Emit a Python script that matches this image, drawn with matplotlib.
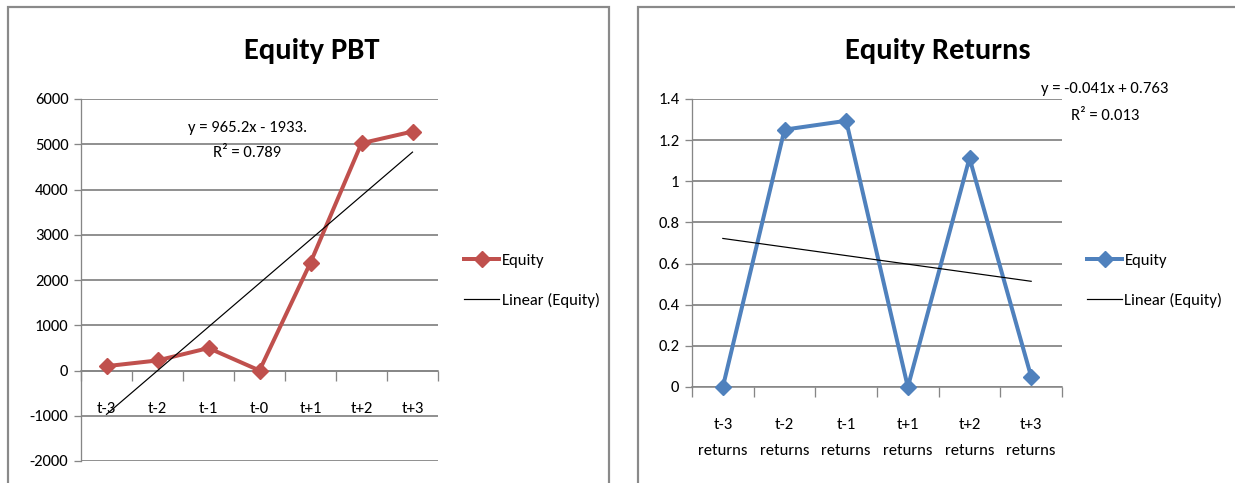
import numpy as np
import matplotlib
matplotlib.use("Agg")
import matplotlib.pyplot as plt
from matplotlib.patches import Rectangle
from matplotlib.ticker import FixedLocator
from matplotlib import font_manager

# ---------------- data ----------------
pbt_categories = ["t-3", "t-2", "t-1", "t-0", "t+1", "t+2", "t+3"]
pbt_values = [96, 222, 496, 0, 2385, 5022, 5281]
pbt_yticks = [-2000, -1000, 0, 1000, 2000, 3000, 4000, 5000, 6000]
pbt_eq = "y = 965.2x - 1933."
pbt_r2 = "R² = 0.789"

ret_categories = ["t-3\nreturns", "t-2\nreturns", "t-1\nreturns",
                  "t+1\nreturns", "t+2\nreturns", "t+3\nreturns"]
ret_values = [0.0, 1.251, 1.294, 0.0, 1.113, 0.050]
ret_yticks = [0, 0.2, 0.4, 0.6, 0.8, 1, 1.2, 1.4]
ret_ytick_labels = ["0", "0.2", "0.4", "0.6", "0.8", "1", "1.2", "1.4"]
ret_eq = "y = -0.041x + 0.763"
ret_r2 = "R² = 0.013"

series_name = "Equity"
trend_name = "Linear (Equity)"

# ---------------- style ----------------
names = {f.name for f in font_manager.fontManager.ttflist}
base = "Carlito" if "Carlito" in names else "Liberation Sans"
plt.rcParams["font.family"] = [base, "DejaVu Sans"]

W, H = 1235, 483
fig = plt.figure(figsize=(W / 100, H / 100), dpi=100)
GRID = "#868686"
RED = "#C0504D"
BLUE = "#4F81BD"
PX = 72 / 100  # points per pixel


def fx(x):
    return x / W


def fy(y):
    return 1 - y / H


# frames
fig.patches.append(Rectangle((fx(8), fy(490)), fx(609 - 8), (490 - 7) / H,
                             transform=fig.transFigure, fill=False,
                             edgecolor="#8a8a8a", lw=2.2 * PX))
fig.patches.append(Rectangle((fx(638), fy(490)), fx(700), (490 - 7) / H,
                             transform=fig.transFigure, fill=False,
                             edgecolor="#8a8a8a", lw=2.2 * PX))


def style_axes(ax, yticks, ylabels, n, zero_spine):
    for s in ["top", "right"]:
        ax.spines[s].set_visible(False)
    ax.spines["left"].set_color(GRID)
    ax.spines["left"].set_linewidth(1.3 * PX)
    ax.spines["bottom"].set_color(GRID)
    ax.spines["bottom"].set_linewidth(1.6 * PX)
    if zero_spine:
        ax.spines["bottom"].set_position(("data", 0))
    ax.set_yticks(yticks)
    ax.set_yticklabels(ylabels)
    ax.yaxis.grid(True, color=GRID, lw=1.8 * PX)
    ax.set_axisbelow(True)
    ax.tick_params(axis="y", direction="out", length=5 * PX * 1.4,
                   color=GRID, width=1.3 * PX, labelsize=12, pad=4)
    ax.set_xlim(0.5, n + 0.5)
    ax.xaxis.set_minor_locator(FixedLocator(np.arange(0.5, n + 1, 1.0)))
    ax.tick_params(axis="x", which="minor", direction="out",
                   length=7 * PX * 1.4, color=GRID, width=1.3 * PX)
    ax.tick_params(axis="x", which="major", length=0, labelsize=12)


# ---------------- left chart ----------------
axL = fig.add_axes([fx(81), fy(461), fx(438 - 81), (461 - 99) / H])
xL = np.arange(1, len(pbt_values) + 1)
lineL, = axL.plot(xL, pbt_values, color=RED, lw=4 * PX, marker="D",
                  markersize=11 * PX, zorder=3, label=series_name)
cL = np.polyfit(xL, pbt_values, 1)
trendL, = axL.plot(xL, np.polyval(cL, xL), color="black", lw=1.2 * PX,
                   zorder=4, label=trend_name)
axL.set_ylim(-2000, 6000)
style_axes(axL, pbt_yticks, [str(v) for v in pbt_yticks], len(pbt_values), True)
axL.set_xticks(xL)
axL.set_xticklabels(pbt_categories)
axL.tick_params(axis="x", which="major", pad=23)
for lab in axL.get_xticklabels():
    lab.set_zorder(5)

fig.text(fx(312), fy(51), "Equity PBT", ha="center", va="center",
         fontsize=22, fontweight="bold")
fig.text(fx(248), fy(128), pbt_eq, ha="center", va="center", fontsize=12)
fig.text(fx(247), fy(153), pbt_r2, ha="center", va="center", fontsize=12)

axL.legend(handles=[lineL, trendL], loc="upper left",
           bbox_to_anchor=(fx(464), fy(253)), bbox_transform=fig.transFigure,
           frameon=False, fontsize=12, borderpad=0, borderaxespad=0,
           handlelength=2.1, handletextpad=0.15, labelspacing=1.5)

# ---------------- right chart ----------------
axR = fig.add_axes([fx(692), fy(387), fx(1062 - 692), (387 - 99) / H])
xR = np.arange(1, len(ret_values) + 1)
lineR, = axR.plot(xR, ret_values, color=BLUE, lw=4 * PX, marker="D",
                  markersize=11 * PX, zorder=3, label=series_name,
                  clip_on=False)
cR = np.polyfit(xR, ret_values, 1)
trendR, = axR.plot(xR, np.polyval(cR, xR), color="black", lw=1.2 * PX,
                   zorder=4, label=trend_name)
axR.set_ylim(0, 1.4)
style_axes(axR, ret_yticks, ret_ytick_labels, len(ret_values), False)
axR.set_xticks(xR)
axR.set_xticklabels(ret_categories, linespacing=2.1)
axR.tick_params(axis="x", which="major", pad=22.5)

fig.text(fx(938), fy(51), "Equity Returns", ha="center", va="center",
         fontsize=22, fontweight="bold")
fig.text(fx(1105), fy(89), ret_eq, ha="center", va="center", fontsize=12)
fig.text(fx(1105), fy(116), ret_r2, ha="center", va="center", fontsize=12)

axR.legend(handles=[lineR, trendR], loc="upper left",
           bbox_to_anchor=(fx(1087), fy(253)), bbox_transform=fig.transFigure,
           frameon=False, fontsize=12, borderpad=0, borderaxespad=0,
           handlelength=2.1, handletextpad=0.15, labelspacing=1.5)

fig.savefig("out.png", dpi=100)
